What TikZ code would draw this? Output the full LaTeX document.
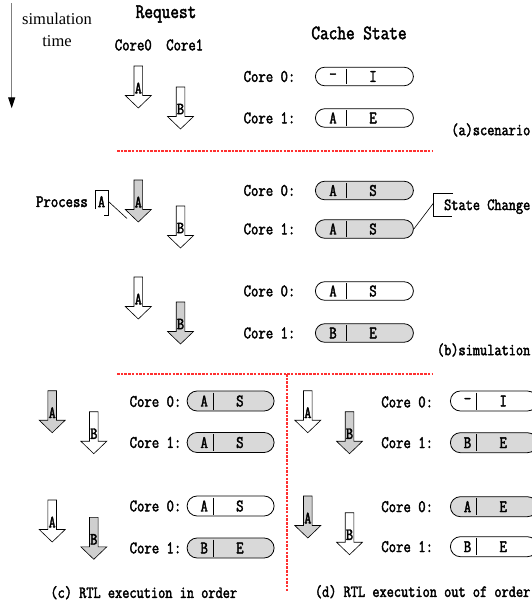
\documentclass[tikz,border=0pt]{standalone}
\usepackage{fontspec}
\setmainfont{Liberation Serif}
\newfontfamily\cnmono[FakeBold=2.2, FakeStretch=0.82]{Latin Modern Mono}
\usetikzlibrary{arrows.meta}
\definecolor{pillgray}{HTML}{D9D9D9}
\definecolor{arrgray}{HTML}{CFCFCF}
\definecolor{sepred}{HTML}{FF3030}
\definecolor{timegray}{HTML}{7F7F7F}
\newcommand{\pillW}{98}
\newcommand{\pillH}{18.5}
\newcommand{\pillR}{9.25pt}
\newcommand{\pillD}{31}
\newcommand{\pillA}{18}
\newcommand{\pillB}{58}
\newcommand{\blockarr}[5]{%
  \draw[blockline, fill=#4] (#2-4.3,#3) -- (#2+4.3,#3) -- (#2+4.3,#3+29.5) -- (#2+13,#3+29.5)
     -- (#2,#3+42) -- (#2-13,#3+29.5) -- (#2-4.3,#3+29.5) -- cycle;
  \node[arrletter] (#1) at (#2,#3+22) {#5};}
\newcommand{\cachepill}[6]{%
  \node[pillbox, fill=#4, minimum width=\pillW pt, minimum height=\pillH pt,
        rounded corners=\pillR, anchor=west] (#1) at (#2,#3) {};
  \draw[divline] (#2+\pillD,#3-\pillH/2+1.5) -- (#2+\pillD,#3+\pillH/2-1.5);
  \node[cell] (#1-l) at (#2+\pillA,#3) {#5};
  \node[cell] (#1-r) at (#2+\pillB,#3) {#6};}
\tikzset{
  mtext/.style={inner sep=0pt, font=\cnmono\fontsize{17.5}{17.5}\selectfont},
  htext/.style={inner sep=0pt, font=\cnmono\fontsize{20.5}{20.5}\selectfont},
  captext/.style={inner sep=0pt, font=\cnmono\fontsize{17}{17}\selectfont},
  cell/.style={mtext},
  arrletter/.style={inner sep=0pt, font=\cnmono\fontsize{17}{17}\selectfont},
  blockline/.style={draw=black, line width=0.6pt, line join=miter},
  pillbox/.style={draw=black, line width=0.8pt, inner sep=0pt, shape=rectangle},
  divline/.style={draw=black, line width=0.9pt},
  sepline/.style={draw=sepred, line width=1.2pt, dash pattern=on 2.5pt off 1.2pt},
  callline/.style={draw=black, line width=0.6pt},
}
\begin{document}
\begin{tikzpicture}[x=1pt, y=-1pt]
\useasboundingbox (0,0) rectangle (532,605);
\fill[white] (0,0) rectangle (532,605);

% header
\coordinate (t0) at (11.7,3);
\coordinate (t1) at (11.7,108.3);
\draw[draw=timegray, line width=1.3pt, -{Triangle[color=black, length=11pt, width=7pt]}] (t0) -- (t1);
\node[inner sep=0pt, font=\fontsize{16.5}{16.5}\selectfont] (simtxt) at (57,18.5) {simulation};
\node[inner sep=0pt, font=\fontsize{16.5}{16.5}\selectfont] (timetxt) at (57,41.5) {time};
\node[htext] (req) at (166,14) {Request};
\node[mtext] (c0h) at (133.3,45) {Core0};
\node[mtext] (c1h) at (184.7,45) {Core1};
\node[htext] (cst) at (359,33) {Cache State};

% (a) scenario
\blockarr{aA}{138.3}{66}{white}{A}
\blockarr{aB}{180.5}{87}{white}{B}
\node[mtext] (aL0) at (269.5,76.5) {Core 0:};
\node[mtext] (aL1) at (269.5,118) {Core 1:};
\cachepill{aP0}{315}{76.5}{white}{-}{I}
\cachepill{aP1}{315}{118}{white}{A}{E}
\node[captext, anchor=east] (capa) at (530.5,130) {(a)scenario};
\coordinate (s1a) at (117,151);
\coordinate (s1b) at (433,151);
\draw[sepline] (s1a) -- (s1b);

% (b) simulation
\blockarr{bA1}{138.3}{180}{arrgray}{A}
\blockarr{bB1}{180.5}{206}{white}{B}
\node[mtext] (bL0) at (269.5,190.5) {Core 0:};
\node[mtext] (bL1) at (269.5,229) {Core 1:};
\cachepill{bP0}{315}{190.5}{pillgray}{A}{S}
\cachepill{bP1}{315}{229}{pillgray}{A}{S}

\node[mtext, anchor=east] (procA) at (88,201.7) {Process};
\node[mtext] (procAl) at (101.5,201.7) {A};
\draw[callline] (95.7,209) -- (95.7,190) -- (108.7,190) -- (108.7,215) -- (104,215);
\coordinate (procAend) at (108.7,201.7);
\coordinate (procAtip) at (127,218.5);
\draw[callline] (procAend) -- (procAtip);

\node[mtext, anchor=east, font=\cnmono\fontsize{17}{17}\selectfont] (stch) at (530.5,206.7) {State Change};
\draw[callline] (453,193.3) -- (433.3,193.3) -- (433.3,216.7) -- (452,216.7);
\coordinate (stchend) at (433.3,203.3);
\draw[callline] (bP1.east) -- (stchend);

\blockarr{bA2}{138.3}{277}{white}{A}
\blockarr{bB2}{180.5}{302}{arrgray}{B}
\node[mtext] (bL2) at (269.5,291) {Core 0:};
\node[mtext] (bL3) at (269.5,333) {Core 1:};
\cachepill{bP2}{315}{291}{white}{A}{S}
\cachepill{bP3}{315}{333}{pillgray}{B}{E}
\node[captext, anchor=east] (capb) at (530.5,350) {(b)simulation};

\coordinate (s2a) at (117,374);
\coordinate (s2b) at (433,374);
\coordinate (s2c) at (287,374);
\coordinate (s2d) at (287,592);
\draw[sepline] (s2a) -- (s2b);
\draw[sepline] (s2c) -- (s2d);

% (c) and (d)
\renewcommand{\pillW}{87}
\renewcommand{\pillH}{20}
\renewcommand{\pillR}{10pt}
\renewcommand{\pillD}{26.6}
\renewcommand{\pillA}{17.5}
\renewcommand{\pillB}{53.2}

\blockarr{cA1}{52.2}{390.7}{arrgray}{A}
\blockarr{cB1}{93.8}{411.7}{white}{B}
\node[mtext] (cL0) at (155.5,401.5) {Core 0:};
\node[mtext] (cL1) at (155.5,442.5) {Core 1:};
\cachepill{cP0}{186.7}{401}{pillgray}{A}{S}
\cachepill{cP1}{186.7}{442.5}{pillgray}{A}{S}
\blockarr{cA2}{52.2}{500}{white}{A}
\blockarr{cB2}{93.8}{517.3}{arrgray}{B}
\node[mtext] (cL2) at (155.5,506) {Core 0:};
\node[mtext] (cL3) at (155.5,548) {Core 1:};
\cachepill{cP2}{186.7}{506}{white}{A}{S}
\cachepill{cP3}{186.7}{548}{pillgray}{B}{E}
\node[captext] (capc) at (143.8,592.7) {(c) RTL execution in order};

\blockarr{dA1}{307.8}{390.7}{white}{A}
\blockarr{dB1}{349.5}{411.7}{arrgray}{B}
\node[mtext] (dL0) at (407.2,402) {Core 0:};
\node[mtext] (dL1) at (407.2,442.7) {Core 1:};
\cachepill{dP0}{450}{401}{white}{-}{I}
\cachepill{dP1}{450}{442.7}{pillgray}{B}{E}
\blockarr{dA2}{307.8}{496}{arrgray}{A}
\blockarr{dB2}{349.5}{512.7}{white}{B}
\node[mtext] (dL2) at (407.2,506.7) {Core 0:};
\node[mtext] (dL3) at (407.2,546.7) {Core 1:};
\cachepill{dP2}{450}{506.7}{pillgray}{A}{E}
\cachepill{dP3}{450}{546.7}{white}{B}{E}
\node[captext, anchor=east] (capd) at (530.5,591.7) {(d) RTL execution out of order};
\end{tikzpicture}
\end{document}
